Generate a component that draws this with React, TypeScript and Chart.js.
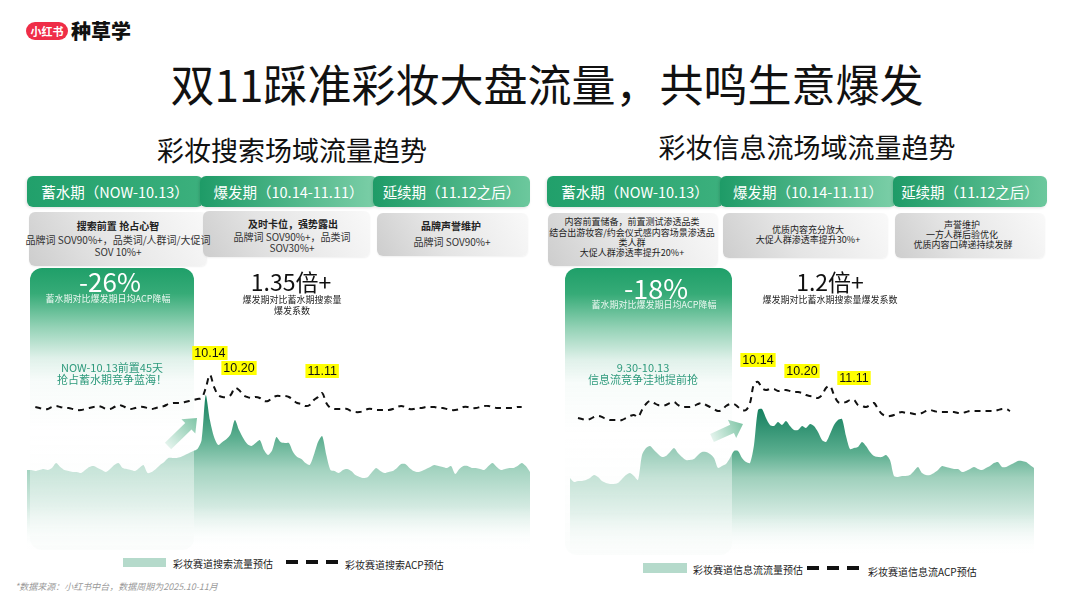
import React, { useEffect, useRef } from "react";
import { Chart, registerables } from "chart.js";

Chart.register(...registerables);

// ---------- DATA ----------
// 彩妆赛道搜索流量预估 (daily index, 9.1 - 12.31)
const searchFlow = [
  90, 90, 89, 90, 91, 90, 92, 97, 93, 90,
  89, 88, 88, 87, 90, 93, 94, 92, 90, 88,
  91, 95, 97, 92, 91, 90, 89, 92, 95, 87,
  88, 91, 95, 98, 102, 102, 102, 103, 105, 107,
  109, 111, 120, 165, 140, 123, 115, 118, 121, 126,
  140, 130, 122, 116, 114, 117, 120, 110, 105, 110,
  123, 118, 117, 117, 108, 103, 101, 97, 95, 105,
  118, 124, 105, 90, 89, 87, 90, 91, 89, 85,
  83, 82, 83, 88, 92, 89, 87, 88, 89, 92,
  96, 96, 92, 89, 88, 89, 91, 93, 95, 94,
  93, 92, 94, 86, 91, 94, 94, 92, 92, 91,
  90, 94, 97, 93, 90, 91, 92, 92, 94, 97,
  94, 88,
];
// 彩妆赛道搜索ACP预估
const searchACP = [
  null, null, 153, 152, 151, 151, 153, 154, 153, 152,
  152, 151, 150, 150, 151, 152, 153, 154, 153, 151,
  151, 153, 155, 154, 152, 151, 152, 153, 153, 152,
  151, 152, 153, 154, 156, 157, 157, 157, 158, 159,
  160, 161, 162, 172, 185, 173, 165, 163, 163, 165,
  172, 170, 165, 163, 162, 163, 162, 159, 159, 162,
  164, 164, 164, 163, 160, 157, 156, 154, 155, 160,
  163, 167, 157, 152, 151, 151, 151, 151, 149, 148,
  148, 149, 151, 151, 150, 150, 150, 150, 151, 153,
  154, 153, 151, 151, 152, 152, 153, 153, 153, 152,
  152, 151, 150, 150, 151, 153, 153, 152, 152, 153,
  154, 154, 153, 152, 152, 152, 152, 152, 153, 153,
  null, null,
];
// 彩妆赛道信息流流量预估
const feedFlow = [
  82, 78, 79, 79, 80, 82, 85, 83, 79, 77,
  76, 76, 77, 81, 85, 87, 84, 80, 105, 112,
  114, 110, 106, 103, 104, 108, 112, 107, 103, 100,
  100, 101, 105, 108, 108, 106, 102, 92, 94, 96,
  102, 109, 109, 102, 98, 97, 115, 150, 151, 142,
  135, 134, 138, 135, 139, 134, 130, 130, 134, 132,
  136, 134, 128, 120, 118, 126, 135, 140, 141, 124,
  111, 112, 113, 118, 114, 108, 104, 103, 103, 105,
  100, 84, 83, 84, 84, 85, 89, 93, 87, 85,
  85, 87, 90, 94, 93, 92, 91, 91, 88, 89,
  91, 93, 91, 90, 92, 94, 97, 98, 93, 93,
  95, 97, 99, 99, 98, 95, 92,
];
// 彩妆赛道信息流ACP预估
const feedACP = [
  null, null, 142, 141, 140, 141, 143, 144, 143, 141,
  140, 140, 140, 140, 142, 144, 145, 143, 150, 156,
  159, 157, 155, 155, 155, 157, 158, 155, 153, 153,
  153, 154, 156, 157, 155, 153, 151, 149, 150, 154,
  156, 156, 153, 150, 150, 157, 176, 178, 172, 170,
  171, 171, 169, 170, 170, 169, 168, 168, 167, 165,
  164, 163, 162, 165, 172, 174, 165, 158, 157, 158,
  160, 160, 155, 154, 153, 155, 157, 151, 146, 144,
  144, 145, 147, 148, 147, 147, 146, 146, 147, 149,
  150, 149, 148, 148, 148, 148, 148, 147, 147, 148,
  149, 149, 149, 149, 149, 149, 149, 150, 151, 151,
  149, null, null, null, null, null, null,
];
const searchMarks = [
  { index: 44, text: "10.14" },
  { index: 51, text: "10.20" },
  { index: 71, text: "11.11" },
];
const feedMarks = [
  { index: 47, text: "10.14" },
  { index: 58, text: "10.20" },
  { index: 71, text: "11.11" },
];

// ---------- STYLE ----------
const FONT = '"Noto Sans CJK SC","Noto Sans",sans-serif';
const searchStops: [number, string][] = [
  [0, "#14805e"],
  [0.28, "#5caf90"],
  [0.48, "#a3d3c0"],
  [0.72, "#d3eae1"],
  [1, "rgba(255,255,255,0)"],
];
const feedStops: [number, string][] = [
  [0, "#15805f"],
  [0.3, "#5bae8f"],
  [0.47, "#9fd0bc"],
  [0.72, "#d3eae1"],
  [1, "rgba(255,255,255,0)"],
];

type Mark = { index: number; text: string };

function makeMarkPlugin(marks: Mark[]) {
  return {
    id: "dateMarks",
    afterDatasetsDraw(chart: any) {
      const meta = chart.getDatasetMeta(0);
      const ctx = chart.ctx;
      ctx.save();
      ctx.font = '12.5px "Liberation Sans", Arial, sans-serif';
      ctx.textAlign = "center";
      ctx.textBaseline = "middle";
      marks.forEach((m) => {
        const pt = meta.data[m.index];
        if (!pt) return;
        const x = pt.x;
        const y = pt.y - 22;
        const w = ctx.measureText(m.text).width + 4;
        ctx.fillStyle = "#ffff00";
        ctx.fillRect(x - w / 2, y - 7, w, 14);
        ctx.fillStyle = "#111";
        ctx.fillText(m.text, x, y + 0.5);
      });
      ctx.restore();
    },
  };
}

// One layer of a trend panel: either the flow area or the ACP dashed line.
function TrendLayer(props: {
  left: number;
  top: number;
  width: number;
  height: number;
  kind: "area" | "line";
  flow: number[];
  acp: (number | null)[];
  marks: Mark[];
  stops: [number, string][];
  fadeTo: number;
  z: number;
}) {
  const ref = useRef<HTMLCanvasElement | null>(null);
  useEffect(() => {
    const { flow, acp, marks, stops, height, fadeTo, kind } = props;
    const labels = flow.map((_, i) => String(i));
    const peak = Math.max(...flow);
    const dataset: any =
      kind === "area"
        ? {
            data: flow,
            fill: "origin",
            borderWidth: 0,
            pointRadius: 0,
            tension: 0.25,
            backgroundColor: (c: any) => {
              const ch = c.chart;
              if (!ch.chartArea) return "transparent";
              const ys = ch.scales.y;
              const g = ch.ctx.createLinearGradient(0, ys.getPixelForValue(peak), 0, ys.getPixelForValue(fadeTo));
              stops.forEach(([o, col]) => g.addColorStop(o, col));
              return g;
            },
          }
        : {
            data: acp,
            fill: false,
            borderColor: "#111",
            borderWidth: 2,
            borderDash: [6, 5],
            pointRadius: 0,
            tension: 0.35,
          };
    const chart = new Chart(ref.current as HTMLCanvasElement, {
      type: "line",
      data: { labels, datasets: [dataset] },
      options: {
        responsive: false,
        animation: false,
        events: [],
        layout: { padding: 0 },
        plugins: { legend: { display: false }, tooltip: { enabled: false } },
        scales: {
          x: { display: false },
          y: { display: false, min: 0, max: height },
        },
      },
      plugins: kind === "line" ? [makeMarkPlugin(marks)] : [],
    });
    return () => chart.destroy();
  }, []);
  return (
    <canvas
      ref={ref}
      width={props.width}
      height={props.height}
      style={{ position: "absolute", left: props.left, top: props.top, width: props.width, height: props.height, zIndex: props.z }}
    />
  );
}

function C(p: { cx: number; cy: number; size: number; color?: string; weight?: number; children: any; z?: number }) {
  const lh = p.size * 1.3;
  return (
    <div
      style={{
        position: "absolute",
        left: p.cx - 500,
        width: 1000,
        top: p.cy - lh / 2,
        lineHeight: `${lh}px`,
        fontSize: p.size,
        color: p.color || "#222",
        fontWeight: p.weight || 400,
        textAlign: "center",
        whiteSpace: "nowrap",
        zIndex: p.z || 5,
        pointerEvents: "none",
      }}
    >
      {p.children}
    </div>
  );
}

function L(p: { x: number; cy: number; size: number; color?: string; italic?: boolean; children: any }) {
  const lh = p.size * 1.3;
  return (
    <div
      style={{
        position: "absolute",
        left: p.x,
        top: p.cy - lh / 2,
        lineHeight: `${lh}px`,
        fontSize: p.size,
        color: p.color || "#222",
        fontStyle: p.italic ? "italic" : "normal",
        whiteSpace: "nowrap",
      }}
    >
      {p.children}
    </div>
  );
}

function Phase(p: { x: number; w: number; text: string; from: string; to: string; z: number }) {
  return (
    <div
      style={{
        position: "absolute",
        left: p.x,
        top: 176,
        width: p.w,
        height: 31,
        borderRadius: 6,
        background: `linear-gradient(90deg, ${p.from}, ${p.to})`,
        color: "#fff",
        fontSize: 14.5,
        display: "flex",
        alignItems: "center",
        justifyContent: "center",
        zIndex: p.z,
        boxShadow: "-1px 1px 3px rgba(0,0,0,0.12)",
        whiteSpace: "nowrap",
      }}
    >
      {p.text}
    </div>
  );
}

function Gray(p: { x: number; y: number; w: number; h: number }) {
  return (
    <div
      style={{
        position: "absolute",
        left: p.x,
        top: p.y,
        width: p.w,
        height: p.h,
        borderRadius: 6,
        background: "linear-gradient(60deg, #cdcdcd 0%, #e4e4e4 40%, #f9f9f9 100%)",
        boxShadow: "0 1px 2px rgba(0,0,0,0.06)",
      }}
    />
  );
}

function GreenBox(p: { x: number; y: number; w: number; h: number }) {
  return (
    <div
      style={{
        position: "absolute",
        left: p.x,
        top: p.y,
        width: p.w,
        height: p.h,
        borderRadius: 12,
        zIndex: 2,
        background:
          "linear-gradient(180deg, #1f9f69 0%, #36ab77 9%, #94d2b6 21%, #e0f1ea 32%, rgba(246,251,249,0.85) 40%, rgba(255,255,255,0.4) 58%, rgba(246,250,248,0.45) 100%)",
      }}
    />
  );
}

function arrowPts(x1: number, y1: number, x2: number, y2: number) {
  const dx = x2 - x1, dy = y2 - y1;
  const len = Math.hypot(dx, dy);
  const ux = dx / len, uy = dy / len;
  const nx = -uy, ny = ux;
  const w = 4.5, hw = 10, hl = 12;
  const bx = x2 - ux * hl, by = y2 - uy * hl;
  const pts = [
    [x1 + nx * w, y1 + ny * w],
    [bx + nx * w, by + ny * w],
    [bx + nx * hw, by + ny * hw],
    [x2, y2],
    [bx - nx * hw, by - ny * hw],
    [bx - nx * w, by - ny * w],
    [x1 - nx * w, y1 - ny * w],
  ];
  return pts.map((q) => q.join(",")).join(" ");
}

function Dashes(p: { x: number; cy: number }) {
  return (
    <>
      {[0, 20, 40].map((o) => (
        <div key={o} style={{ position: "absolute", left: p.x + o, top: p.cy - 2, width: 12, height: 4, background: "#111" }} />
      ))}
    </>
  );
}

export default function App() {
  return (
    <div
      style={{
        position: "absolute",
        left: 0,
        top: 0,
        width: 1067,
        height: 600,
        background: "#fff",
        overflow: "hidden",
        fontFamily: FONT,
      }}
    >
      {/* logo */}
      <div
        style={{
          position: "absolute",
          left: 26,
          top: 22,
          width: 42,
          height: 18,
          borderRadius: 9,
          background: "#ef2d47",
          color: "#fff",
          fontSize: 11,
          fontWeight: 700,
          lineHeight: "18px",
          textAlign: "center",
        }}
      >
        小红书
      </div>
      <L x={71} cy={31} size={20}>
        <span style={{ fontWeight: 900, color: "#111" }}>种草学</span>
      </L>

      {/* titles */}
      <C cx={547} cy={84} size={44} color="#111">双11踩准彩妆大盘流量，共鸣生意爆发</C>
      <C cx={292} cy={150} size={27} color="#111">彩妆搜索场域流量趋势</C>
      <C cx={807} cy={147} size={27} color="#111">彩妆信息流场域流量趋势</C>

      {/* phase headers - left */}
      <Phase x={27} w={176} text="蓄水期（NOW-10.13）" from="#21a06b" to="#3cb07d" z={1} />
      <Phase x={200} w={177} text="爆发期（10.14-11.11）" from="#1e9b67" to="#7ccfa8" z={2} />
      <Phase x={373} w={157} text="延续期（11.12之后）" from="#1e9b67" to="#6cc89d" z={3} />
      {/* phase headers - right */}
      <Phase x={547} w={176} text="蓄水期（NOW-10.13）" from="#21a06b" to="#3cb07d" z={1} />
      <Phase x={720} w={176} text="爆发期（10.14-11.11）" from="#1e9b67" to="#7ccfa8" z={2} />
      <Phase x={893} w={154} text="延续期（11.12之后）" from="#1e9b67" to="#6cc89d" z={3} />

      {/* gray boxes left */}
      <Gray x={29} y={212} w={178} h={54} />
      <Gray x={203} y={211} w={167} h={46} />
      <Gray x={377} y={213} w={151} h={43} />
      <C cx={118} cy={225} size={10} weight={700}>搜索前置 抢占心智</C>
      <C cx={118} cy={239} size={10} color="#333">品牌词 SOV90%+，品类词/人群词/大促词</C>
      <C cx={118} cy={251} size={10} color="#333">SOV 10%+</C>
      <C cx={293} cy={223} size={10} weight={700}>及时卡位，强势露出</C>
      <C cx={292} cy={236} size={10} color="#333">品牌词 SOV90%+，品类词</C>
      <C cx={292} cy={247} size={10} color="#333">SOV30%+</C>
      <C cx={451} cy={225} size={10} weight={700}>品牌声誉维护</C>
      <C cx={452} cy={241} size={10} color="#333">品牌词 SOV90%+</C>

      {/* gray boxes right */}
      <Gray x={548} y={213} w={170} h={53} />
      <Gray x={723} y={213} w={165} h={45} />
      <Gray x={895} y={213} w={150} h={45} />
      <C cx={632} cy={222} size={9} color="#222">内容前置储备，前置测试渗透品类</C>
      <C cx={632} cy={233} size={9} color="#222">结合出游妆容/约会仪式感内容场景渗透品</C>
      <C cx={632} cy={243} size={9} color="#222">类人群</C>
      <C cx={632} cy={253} size={9} color="#222">大促人群渗透率提升20%+</C>
      <C cx={808} cy={230} size={9} color="#222">优质内容充分放大</C>
      <C cx={808} cy={240} size={9} color="#222">大促人群渗透率提升30%+</C>
      <C cx={962} cy={225} size={9} color="#222">声誉维护</C>
      <C cx={962} cy={235} size={9} color="#222">一方人群后验优化</C>
      <C cx={963} cy={245} size={9} color="#222">优质内容口碑递持续发酵</C>

      {/* area layers (below the highlight boxes) */}
      <TrendLayer kind="area" z={1} left={27} top={330} width={503} height={230} flow={searchFlow} acp={searchACP} marks={searchMarks} stops={searchStops} fadeTo={10} />
      <TrendLayer kind="area" z={1} left={570} top={330} width={464} height={230} flow={feedFlow} acp={feedACP} marks={feedMarks} stops={feedStops} fadeTo={5} />

      {/* green highlight boxes */}
      <GreenBox x={30} y={268} w={164} h={282} />
      <GreenBox x={565} y={268} w={167} h={287} />
      <C cx={110} cy={281} size={26} color="#fff">-26%</C>
      <C cx={108} cy={299} size={9} color="#eaf7f0">蓄水期对比爆发期日均ACP降幅</C>
      <C cx={112} cy={367} size={11} color="#2e9a7c">NOW-10.13前置45天</C>
      <C cx={112} cy={379} size={11} color="#2e9a7c">抢占蓄水期竞争蓝海！</C>
      <C cx={656} cy={288} size={27} color="#fff">-18%</C>
      <C cx={654} cy={305} size={9} color="#eaf7f0">蓄水期对比爆发期日均ACP降幅</C>
      <C cx={643} cy={367} size={11} color="#2e9a7c">9.30-10.13</C>
      <C cx={643} cy={379} size={11} color="#2e9a7c">信息流竞争洼地提前抢</C>

      {/* big multipliers */}
      <C cx={291} cy={282} size={23} color="#111">1.35倍+</C>
      <C cx={292} cy={300} size={9} color="#222">爆发期对比蓄水期搜索量</C>
      <C cx={292} cy={311} size={9} color="#222">爆发系数</C>
      <C cx={830} cy={282} size={23} color="#111">1.2倍+</C>
      <C cx={830} cy={300} size={9} color="#222">爆发期对比蓄水期搜索量爆发系数</C>

      {/* ACP dashed line layers (above the boxes) */}
      <TrendLayer kind="line" z={6} left={27} top={330} width={503} height={230} flow={searchFlow} acp={searchACP} marks={searchMarks} stops={searchStops} fadeTo={10} />
      <TrendLayer kind="line" z={6} left={570} top={330} width={464} height={230} flow={feedFlow} acp={feedACP} marks={feedMarks} stops={feedStops} fadeTo={5} />

      {/* arrows */}
      <svg width={1067} height={600} style={{ position: "absolute", left: 0, top: 0, pointerEvents: "none", zIndex: 7 }}>
        <defs>
          <linearGradient id="ga" gradientUnits="userSpaceOnUse" x1={168} y1={446} x2={197} y2={418}>
            <stop offset="0" stopColor="#e3f3ec" />
            <stop offset="1" stopColor="#7fc5a6" />
          </linearGradient>
          <linearGradient id="gb" gradientUnits="userSpaceOnUse" x1={712} y1={438} x2={743} y2={424}>
            <stop offset="0" stopColor="#e3f3ec" />
            <stop offset="1" stopColor="#7fc5a6" />
          </linearGradient>
        </defs>
        <polygon points={arrowPts(168, 446, 197, 418)} fill="url(#ga)" />
        <polygon points={arrowPts(712, 438, 743, 424)} fill="url(#gb)" />
      </svg>

      {/* legends */}
      <div style={{ position: "absolute", left: 123, top: 558, width: 43, height: 9, background: "#b5dacb" }} />
      <L x={173} cy={563} size={10}>彩妆赛道搜索流量预估</L>
      <Dashes x={286} cy={562} />
      <L x={345} cy={564} size={10}>彩妆赛道搜索ACP预估</L>

      <div style={{ position: "absolute", left: 643, top: 563, width: 44, height: 10, background: "#b5dacb" }} />
      <L x={693} cy={569} size={10}>彩妆赛道信息流流量预估</L>
      <Dashes x={807} cy={568} />
      <L x={868} cy={571} size={10}>彩妆赛道信息流ACP预估</L>

      {/* footnote */}
      <L x={15} cy={587} size={9} color="#9a9a9a" italic>
        *数据来源：小红书中台，数据周期为2025.10-11月
      </L>
    </div>
  );
}
